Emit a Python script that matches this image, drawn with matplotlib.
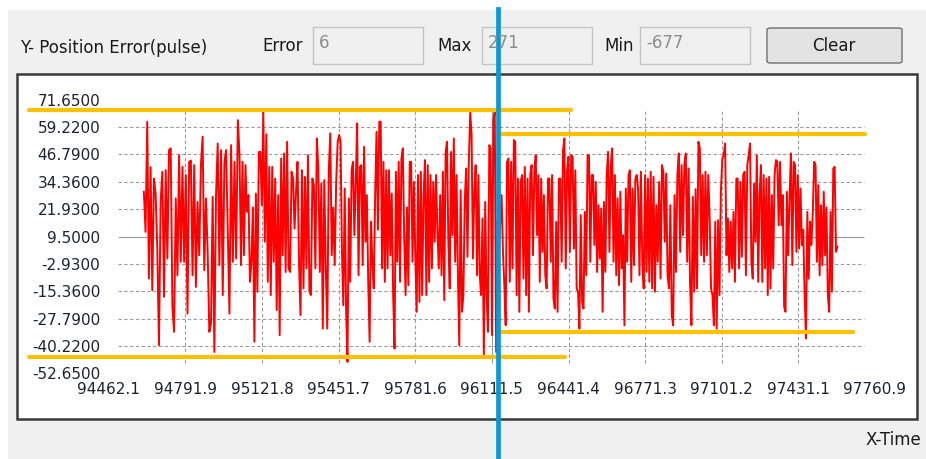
import numpy as np
import matplotlib
matplotlib.use("Agg")
import matplotlib.pyplot as plt
from matplotlib.patches import Rectangle, FancyBboxPatch

W, H = 926, 459

# axis ticks as shown by the control
x_ticks = [94462.1, 94791.9, 95121.8, 95451.7, 95781.6, 96111.5,
           96441.4, 96771.3, 97101.2, 97431.1, 97760.9]
y_ticks = [71.65, 59.22, 46.79, 34.36, 21.93, 9.5,
           -2.93, -15.36, -27.79, -40.22, -52.65]

seg_start = [94613.1, 95024.9, 95453.9, 95882.9, 96311.9, 96740.9, 97169.9, 97598.9]

seg1 = [29.8, 11.6, 61.6, -9.6, 41.0, -14.9, 35.8, 29.0, 4.0, -39.9, 25.2, 38.9,
        -17.9, 39.6, -0.5, 48.7, 49.5, -22.4, -33.8, 26.8, -8.1, 46.4, -2.0, 41.1,
        -2.0, 37.4, -25.5, 43.4, 44.0, -8.1, 41.9, -13.4, 25.2, 1.0, 41.9, 54.8,
        -5.8, 26.8, 2.5, -33.8, -30.0, 27.5, -42.9, 28.3, 51.7, -3.5, 48.7, -17.1,
        43.4, 48.7, 11.6, -25.5, 51.0, -2.0, 43.4, -0.5, 62.3]
seg2 = [46.4, -3.5, 43.4, 1.0, 41.9, 20.7, 28.3, -11.1, -2.0, 22.7, -38.3, 29.0,
        -15.6, 47.9, 47.9, 23.7, 65.8, 7.1, 55.9, -11.1, 41.1, -17.1, 41.1, -2.0,
        35.8, -23.9, 28.3, -35.3, 44.9, 1.0, 47.2, -6.6, 52.5, -5.0, -6.6, 38.9,
        35.8, 13.1, 29.8, 43.4, -2.0, -26.2, 39.6, -14.1, 36.6, -5.0, 46.4, -15.6,
        -17.1, 35.8, 32.8, -5.0, 54.0, 40.4, -6.6, 33.5, -32.3, 35.1, -5.0, -32.3,
        38.9, 56.3, 1.0, 22.7, -3.5, 34.3, 52.5]
seg3 = [55.6, 52.5, 2.5, -21.7, 31.3, -23.2, -47.4, 26.8, -11.1, 39.6, 43.4, 10.1,
        34.3, 60.8, -8.1, 41.1, 41.9, -3.5, 50.2, 7.1, 28.3, -11.1, -38.3, 16.2,
        -2.0, -14.1, 28.3, 57.0, 12.6, 61.6, 61.6, -5.0, 43.4, -11.1, 39.6, -5.0,
        39.6, 1.0, 29.0, -16.4, -41.4, 38.9, -2.0, 43.4, -11.1, 44.9, 49.5, 8.6,
        -17.1, 22.7, -12.6, 43.4, 43.4, -2.0, 34.3, 1.0, -24.7, 37.4, -20.2, 38.9,
        -17.1, 28.3, 44.2, -17.1, 41.9, -11.1, 37.4, -5.0, 34.3, 7.1, 37.4, 11.6]
seg4 = [-5.0, 28.3, -8.1, 38.9, -19.4, 47.9, 52.5, 7.1, -14.1, 47.9, 10.1, 54.0,
        -2.0, 37.4, -8.1, -39.9, 30.5, -24.7, -17.1, 25.2, 40.4, 0.3, 43.4, 65.8,
        55.9, -0.5, 29.8, 41.9, -8.1, 37.4, -8.1, -17.1, 17.7, -44.4, 25.2, -17.1,
        -33.8, 51.0, 49.5, -35.3, 62.8, 66.1, -42.9, 16.2, 2.5, 16.2, 28.3, 2.5,
        -12.6, -30.8, 43.4, 44.9, -11.1, 43.4, -5.0, 53.3, 52.5, -17.1, 35.8, -24.7,
        34.3, 37.4, -9.6, 41.1, -17.1, 35.8, -24.7, 37.4, 41.9, 1.0, 38.9, 46.4, 10.1]
seg5 = [37.4, -11.1, 35.8, 2.5, 28.3, -8.1, -14.1, 35.8, 35.8, -2.0, 37.4, -18.6,
        -23.2, 16.2, -24.7, 35.8, 35.8, -2.0, 48.7, 54.0, -5.0, 39.6, 45.7, 2.5,
        46.4, 45.7, 4.0, 39.6, -14.1, -15.6, -32.3, 19.2, -20.2, -23.2, 20.7, -8.1,
        46.4, 46.4, -2.0, 37.4, 37.4, 5.6, 34.3, -6.6, 23.7, -0.5, 22.2, -24.7,
        25.2, -6.6, 37.4, 47.9, 2.5, 41.9, 49.5, -2.0, 37.4, -8.1, 26.8, -12.6,
        29.8, -5.0, 10.1, -30.8, 31.3, -2.0, 37.4, 39.6, -11.1, 31.3, -3.5, 35.8, 37.4]
seg6 = [31.3, -8.1, 38.9, -2.0, -14.1, 37.4, -6.6, 35.8, -11.1, 38.9, -14.1, 36.6,
        -15.6, 23.7, -2.0, 34.3, -9.6, 41.9, 38.9, 7.1, 38.1, -8.1, -14.1, 23.7,
        -26.2, -30.8, 28.3, -6.6, 37.4, 47.2, 2.5, 41.9, 10.1, 42.6, 47.2, -2.0,
        40.4, -11.1, -30.8, 27.5, -15.6, 31.0, -14.1, 52.5, 49.5, 1.0, 37.4, -2.0,
        38.9, 1.0, 37.4, 17.7, -14.1, -17.1, -30.8, 16.2, -32.3, 16.9, -17.1, 29.8,
        44.9, 46.4, 51.7, 1.0, 17.7, -6.6, 16.2, -5.0, 20.7, -11.1, 35.8]
seg7 = [35.8, -5.0, 34.3, 0.3, 37.4, 38.9, -8.1, 41.9, 46.4, 51.7, -2.0, -9.6,
        33.5, 7.1, 46.4, -11.1, 28.3, 41.9, -11.1, 37.4, -5.0, 35.8, -17.1, 36.6,
        -14.1, 28.3, -5.0, 37.4, 44.2, 43.4, 14.6, 43.4, 14.6, 28.3, -22.4, -24.7,
        29.8, 1.0, 28.3, 47.2, -3.5, 43.4, 41.9, 2.5, 37.4, 4.0, 31.3, 5.6,
        12.6, -17.1, -36.8, 20.7, -9.6, 16.2, 5.6, 20.7, 43.4, 41.9, -2.0, 32.8,
        -8.1, 23.7, -3.5, 29.8, 1.0, 22.7, -17.1, -24.7, 20.7, -15.6, 40.4, 41.1,
        2.5, 4.8]
segments = [seg1, seg2, seg3, seg4, seg5, seg6, seg7]

# hand-drawn marker lines on top of the screenshot: (level, t_from, t_to)
yellow_marks = [(67.1, 94120.0, 96452.0), (-45.4, 94120.0, 96426.0),
                (56.2, 96140.0, 97716.0), (-33.8, 96147.0, 97666.0)]
blue_mark_t = 96137.0

# extent of the dashed grid drawn by the control
grid_t = (94501.6, 97713.5)
grid_v = (-48.1, 67.1)

# ---- build time axis chunk by chunk
t_all, v_all = [], []
for i, seg in enumerate(segments):
    end = i == len(segments) - 1
    t_all.append(np.linspace(seg_start[i], seg_start[i + 1], len(seg), endpoint=end))
    v_all.append(np.array(seg))
t_all = np.concatenate(t_all)
v_all = np.concatenate(v_all)

fig = plt.figure(figsize=(W / 100, H / 100), dpi=100)
fig.patch.set_facecolor("white")


def px(x, y, w=0, h=0):
    # pixel box (top-left origin) -> figure fraction
    return x / W, 1 - (y + h) / H, w / W, h / H


# window background and chart panel
x0, y0, w0, h0 = px(8, 10, W - 8, H - 10)
fig.patches.append(Rectangle((x0, y0), w0, h0, transform=fig.transFigure,
                             facecolor="#f0f0f0", edgecolor="none", zorder=0))
x0, y0, w0, h0 = px(17, 74, 900, 345)
fig.patches.append(Rectangle((x0, y0), w0, h0, transform=fig.transFigure,
                             facecolor="white", edgecolor="#3a3a3a", lw=1.8, zorder=1))

# header widgets
hdr = dict(family="DejaVu Sans", fontsize=12, color="#1a1a1a", va="center")
fig.text(20 / W, 1 - 48 / H, "Y- Position Error(pulse)", ha="left", **hdr)
for label, lx, bx, val in [("Error", 262, 313, "6"), ("Max", 437, 482, "271"),
                           ("Min", 604, 640, "-677")]:
    fig.text(lx / W, 1 - 46 / H, label, ha="left", **hdr)
    x0, y0, w0, h0 = px(bx, 27, 110, 37)
    fig.patches.append(Rectangle((x0, y0), w0, h0, transform=fig.transFigure,
                                 facecolor="#f0f0f0", edgecolor="#c4c4c4", lw=1, zorder=1))
    fig.text((bx + 6) / W, 1 - 43 / H, val, ha="left",
             **{**hdr, "color": "#8c8c8c"})
x0, y0, w0, h0 = px(767, 28, 135, 35)
fig.patches.append(FancyBboxPatch((x0, y0), w0, h0, transform=fig.transFigure,
                                  boxstyle="round,pad=0,rounding_size=0.004",
                                  facecolor="#e3e3e3", edgecolor="#707070", lw=1, zorder=1))
fig.text(834 / W, 1 - 46 / H, "Clear", ha="center", **hdr)
fig.text(866 / W, 1 - 440 / H, "X-Time", ha="left", **hdr)

# plotting area
ax = fig.add_axes([108.8 / W, 1 - 373.4 / H, (875 - 108.8) / W, (373.4 - 99.6) / H])
ax.set_facecolor("none")
ax.set_zorder(2)
for s in ax.spines.values():
    s.set_visible(False)
ax.set_xlim(x_ticks[0], x_ticks[-1])
ax.set_ylim(y_ticks[-1], y_ticks[0])
ax.set_xticks(x_ticks)
ax.set_xticklabels([f"{v:.1f}" for v in x_ticks])
ax.set_yticks(y_ticks)
ax.set_yticklabels([f"{v:.4f}" for v in y_ticks])
ax.tick_params(length=0, labelsize=11, colors="#1e2230")
ax.tick_params(axis="y", pad=6)
ax.tick_params(axis="x", pad=6)

mid_t = x_ticks[len(x_ticks) // 2]
mid_v = y_ticks[len(y_ticks) // 2]
for v in y_ticks[1:-1]:
    ls = "-" if v == mid_v else (0, (3, 2.2))
    ax.hlines(v, *grid_t, colors="#9a9a9a", lw=0.8, linestyles=ls, zorder=1)
for t in x_ticks[1:-1]:
    ls = "-" if t == mid_t else (0, (3, 2.2))
    ax.vlines(t, *grid_v, colors="#9a9a9a", lw=0.8, linestyles=ls, zorder=1)

ax.plot(t_all, v_all, color="#ff0000", lw=1.4, zorder=3)

for lvl, ta, tb in yellow_marks:
    ax.plot([ta, tb], [lvl, lvl], color="#ffc000", lw=3.0,
            solid_capstyle="round", clip_on=False, zorder=4)
ax.axvline(blue_mark_t, ymin=-0.32, ymax=1.33, color="#0b98d8", lw=3.4,
           clip_on=False, zorder=5)

fig.savefig("out.png", dpi=100)
